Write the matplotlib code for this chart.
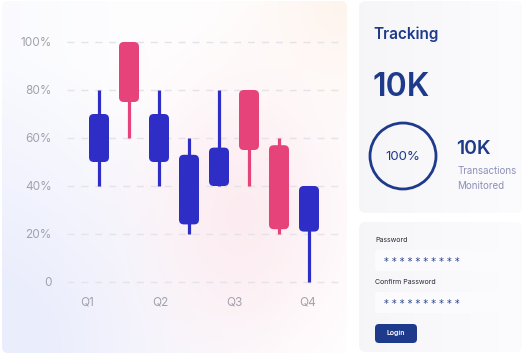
import numpy as np
import matplotlib.pyplot as plt
from matplotlib.patches import FancyBboxPatch, Circle

plt.rcParams['font.family'] = ['Inter', 'DejaVu Sans']

# candle data (percent)
opens = [70, 75, 70, 53, 40, 80, 57, 40]
closes = [50, 100, 50, 24, 56, 55, 22, 21]
highs = [80, 100, 80, 60, 80, 80, 60, 40]
lows = [40, 60, 40, 20, 40, 40, 20, 0]
colors = ['blue', 'red', 'blue', 'blue', 'blue', 'red', 'red', 'blue']

y_ticks = [0, 20, 40, 60, 80, 100]
y_labels = ['0', '20%', '40%', '60%', '80%', '100%']
q_pos = [-0.4, 2.05, 4.5, 6.95]
q_labels = ['Q1', 'Q2', 'Q3', 'Q4']

BLUE = '#2E2EC6'
RED = '#E6437A'
NAVY = '#1E3A8A'
palette = {'blue': BLUE, 'red': RED}

fig = plt.figure(figsize=(5.26, 3.56), dpi=100)
fig.patch.set_facecolor('white')

# background layer in pixel coords
bg = fig.add_axes([0, 0, 1, 1])
bg.set_xlim(0, 526)
bg.set_ylim(356, 0)
bg.axis('off')

# left card with soft gradient
H, W = 356, 348
yy, xx = np.mgrid[0:H, 0:W] / np.array([H, W])[:, None, None]
img = np.ones((H, W, 3))
lav = np.array([0.92, 0.93, 0.99])
pink = np.array([0.99, 0.92, 0.94])
peach = np.array([1.0, 0.95, 0.92])
w_lav = np.clip(1.1 - np.hypot(xx - 0.0, yy - 1.0) * 1.3, 0, 1) * 0.9 + np.clip(0.5 - xx, 0, 1) * 0.5
w_pink = np.exp(-((xx - 0.7) ** 2 / 0.08 + (yy - 0.6) ** 2 / 0.15)) * 0.9
w_peach = np.exp(-((xx - 1.0) ** 2 / 0.06 + (yy - 0.0) ** 2 / 0.06)) * 0.8
w_lav = np.clip(w_lav, 0, 1)
for w, c in [(w_lav, lav), (w_pink, pink), (w_peach, peach)]:
    img = img * (1 - w[..., None]) + c * w[..., None]
card = FancyBboxPatch((2, 1), 345, 352, boxstyle='round,pad=0,rounding_size=6',
                      fc='none', ec='none')
bg.add_patch(card)
im = bg.imshow(img, extent=(2, 347, 353, 1), aspect='auto', zorder=0)
im.set_clip_path(card)

# right cards
for (x0, y0, w, h) in [(359, 1, 163, 212), (359, 222, 163, 130)]:
    g = np.linspace(0, 1, 100)[None, :]
    cimg = np.ones((2, 100, 3)) * np.array([0.965, 0.96, 0.97])
    cimg = cimg * (1 - g[..., None] * 0.9) + np.array([0.99, 0.99, 1.0]) * g[..., None] * 0.9
    p = FancyBboxPatch((x0, y0), w, h, boxstyle='round,pad=0,rounding_size=7',
                       fc='none', ec='none')
    bg.add_patch(p)
    ci = bg.imshow(cimg, extent=(x0, x0 + w, y0 + h, y0), aspect='auto', zorder=0)
    ci.set_clip_path(p)

# tracking card
bg.text(373, 34, 'Tracking', fontsize=11, color=NAVY, fontweight='semibold', va='center')
bg.text(372, 87, '10K', fontsize=23, color=NAVY, fontweight='semibold', va='center')
bg.add_patch(Circle((403, 156), 33, fc='none', ec=NAVY, lw=2))
bg.text(403, 157, '100%', fontsize=9.5, color=NAVY, ha='center', va='center')
bg.text(456, 149, '10K', fontsize=14, color=NAVY, fontweight='semibold', va='center')
bg.text(457, 171, 'Transactions', fontsize=7, color='#8C90B8', va='center')
bg.text(457, 186, 'Monitored', fontsize=7, color='#8C90B8', va='center')

# password card
bg.text(375, 240, 'Password', fontsize=5, color='#2A2A3A', va='center')
bg.text(375, 282, 'Confirm Password', fontsize=5, color='#2A2A3A', va='center')
for y0 in [250, 292]:
    bg.add_patch(FancyBboxPatch((375, y0), 130, 21, boxstyle='round,pad=0,rounding_size=3',
                                fc='#FBFBFD', ec='none'))
    bg.text(384, y0 + 12, '* ' * 9 + '*', fontsize=7, color=NAVY, va='center',
            family='DejaVu Sans')
bg.add_patch(FancyBboxPatch((375, 324), 42, 19, boxstyle='round,pad=0,rounding_size=4',
                            fc=NAVY, ec='none'))
bg.text(396, 333.5, 'Login', fontsize=5, color='white', ha='center', va='center',
        fontweight='semibold')

# candlestick chart
ax = fig.add_axes([60 / 526, (356 - 294) / 356, 285 / 526, 264 / 356])
ax.set_facecolor('none')
ax.set_xlim(-1.3, 8.2)
ax.set_ylim(-5, 105)
for s in ax.spines.values():
    s.set_visible(False)

ax.hlines(y_ticks, -1.07, 8.03, colors='#E3E3E9', linestyles=(0, (5, 5)), lw=1, zorder=1)

bw = 20 / 30
aspect = 30 / 2.4
for i in range(len(opens)):
    c = palette[colors[i]]
    ax.vlines(i, lows[i], highs[i], colors=c, lw=2.3, zorder=2)
    lo, hi = min(opens[i], closes[i]), max(opens[i], closes[i])
    ax.add_patch(FancyBboxPatch((i - bw / 2, lo), bw, hi - lo,
                                boxstyle='round,pad=0,rounding_size=0.16',
                                mutation_aspect=aspect, fc=c, ec='none', zorder=3))

ax.set_yticks(y_ticks)
ax.set_yticklabels(y_labels)
ax.set_xticks(q_pos)
ax.set_xticklabels(q_labels)
ax.tick_params(length=0, colors='#A2A2AC', labelsize=8.5)
ax.tick_params(axis='y', pad=6)
ax.tick_params(axis='x', pad=2)

fig.savefig('out.png', dpi=100)
